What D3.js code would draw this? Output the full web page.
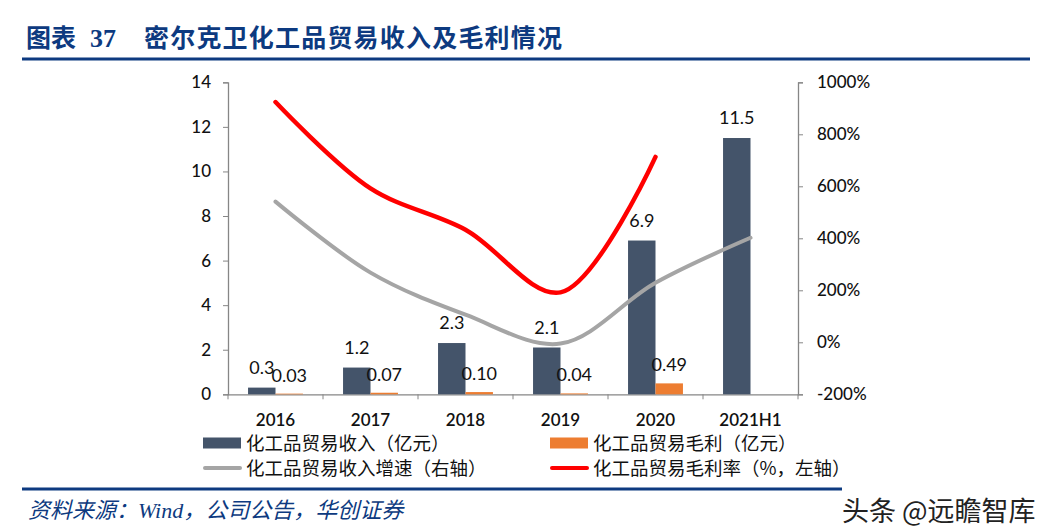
<!DOCTYPE html>
<html>
<head>
<meta charset="utf-8">
<script src="https://cdn.jsdelivr.net/npm/d3@7"></script>
<style>
  body { margin: 0; background: #fff; }
  svg { display: block; }
</style>
</head>
<body>
<div id="chart"></div>
<script>
// chart data
const years = ["2016", "2017", "2018", "2019", "2020", "2021H1"];
const revenue = [0.3, 1.2, 2.3, 2.1, 6.9, 11.5];              // 亿元
const profit = [0.03, 0.07, 0.10, 0.04, 0.49, null];          // 亿元
const growth = [541, 268, 106, -5, 229, 402];                 // %, right axis
const margin = [924, 592, 433, 192, 713];                      // % (drawn against right scale)
const revLabels = ["0.3", "1.2", "2.3", "2.1", "6.9", "11.5"];
const profitLabels = ["0.03", "0.07", "0.10", "0.04", "0.49", ""];
const leftTicks = [0, 2, 4, 6, 8, 10, 12, 14];
const rightTicks = [-200, 0, 200, 400, 600, 800, 1000];

const width = 1048;
const height = 531;
const plot = { left: 228, right: 798, top: 82.3, bottom: 394.3 };

const navy = "#0d3a80";
const axisColor = "#868686";
const numFont = "Lato, 'Open Sans', sans-serif";
const cjkFont = "'Noto Sans CJK SC', sans-serif";

const svg = d3.select("#chart")
  .append("svg")
  .attr("width", width)
  .attr("height", height);

///////////////////// title /////////////////////
const title = svg.append("g")
  .attr("fill", navy)
  .attr("font-weight", "bold")
  .attr("font-family", cjkFont);
title.append("text").attr("x", 26).attr("y", 47).attr("font-size", 25).text("图表");
title.append("text").attr("x", 90).attr("y", 47).attr("font-size", 26)
  .attr("font-family", "'Liberation Serif', serif").text("37");
title.append("text").attr("x", 144).attr("y", 47).attr("font-size", 25)
  .attr("letter-spacing", 1.2).text("密尔克卫化工品贸易收入及毛利情况");

svg.append("line")
  .attr("x1", 22).attr("x2", 1030).attr("y1", 59).attr("y2", 59)
  .attr("stroke", navy).attr("stroke-width", 3);

///////////////////// scales /////////////////////
const x = d3.scaleBand()
  .domain(years)
  .range([plot.left, plot.right]);

const inner = d3.scaleBand()
  .domain(["rev", "profit"])
  .range([0, x.bandwidth()])
  .paddingOuter(0.73)
  .paddingInner(0);

const yL = d3.scaleLinear().domain([0, 14]).range([plot.bottom, plot.top]);
const yR = d3.scaleLinear().domain([-200, 1000]).range([plot.bottom, plot.top]);

///////////////////// axes /////////////////////
const leftAxis = svg.append("g")
  .attr("transform", `translate(${plot.left},0)`)
  .call(d3.axisLeft(yL).tickValues(leftTicks).tickSize(5).tickPadding(12));

const rightAxis = svg.append("g")
  .attr("transform", `translate(${plot.right},0)`)
  .call(d3.axisRight(yR).tickValues(rightTicks).tickSize(5).tickPadding(14)
    .tickFormat(d => d + "%"));

const bottomAxis = svg.append("g")
  .attr("transform", `translate(0,${plot.bottom})`)
  .call(d3.axisBottom(x).tickSize(0).tickPadding(20));

// category separators like Excel's between-tick marks
bottomAxis.selectAll(".sep")
  .data(d3.range(years.length + 1))
  .join("line")
    .attr("class", "sep")
    .attr("x1", i => plot.left + i * x.step())
    .attr("x2", i => plot.left + i * x.step())
    .attr("y1", 0).attr("y2", 5)
    .attr("stroke", axisColor);

[leftAxis, rightAxis, bottomAxis].forEach(g => {
  g.select(".domain").attr("stroke", axisColor).attr("stroke-width", 1.3);
  g.selectAll(".tick line").attr("stroke", axisColor);
  g.selectAll("text")
    .attr("font-family", numFont)
    .attr("font-size", 17)
    .attr("font-weight", 500)
    .attr("fill", "#111");
});
bottomAxis.selectAll(".tick text").attr("font-weight", 600);

///////////////////// bars /////////////////////
svg.append("g")
  .selectAll("rect")
  .data(years)
  .join("rect")
    .attr("x", d => x(d) + inner("rev"))
    .attr("y", (d, i) => yL(revenue[i]))
    .attr("width", inner.bandwidth())
    .attr("height", (d, i) => yL(0) - yL(revenue[i]))
    .attr("fill", "#44546a");

svg.append("g")
  .selectAll("rect")
  .data(years.filter((d, i) => profit[i] !== null))
  .join("rect")
    .attr("x", d => x(d) + inner("profit"))
    .attr("y", (d, i) => yL(profit[i]))
    .attr("width", inner.bandwidth())
    .attr("height", (d, i) => yL(0) - yL(profit[i]))
    .attr("fill", "#ed7d31");

///////////////////// lines /////////////////////
const cx = d => x(d) + x.bandwidth() / 2;

const line = d3.line()
  .x(d => cx(d.year))
  .y(d => yR(d.value))
  .curve(d3.curveCatmullRom.alpha(0.5));

svg.append("path")
  .datum(years.map((y, i) => ({ year: y, value: growth[i] })))
  .attr("fill", "none")
  .attr("stroke", "#a5a5a5")
  .attr("stroke-width", 4)
  .attr("stroke-linecap", "round")
  .attr("d", line);

svg.append("path")
  .datum(margin.map((v, i) => ({ year: years[i], value: v })))
  .attr("fill", "none")
  .attr("stroke", "#ff0000")
  .attr("stroke-width", 4.5)
  .attr("stroke-linecap", "round")
  .attr("d", line);

///////////////////// value labels /////////////////////
const labels = svg.append("g")
  .attr("font-family", numFont)
  .attr("font-size", 18)
  .attr("fill", "#111")
  .attr("text-anchor", "middle");

labels.selectAll(".rev")
  .data(years)
  .join("text")
    .attr("class", "rev")
    .attr("x", d => x(d) + inner("rev") + inner.bandwidth() / 2)
    .attr("y", (d, i) => yL(revenue[i]) - 14)
    .text((d, i) => revLabels[i]);

labels.selectAll(".profit")
  .data(years.filter((d, i) => profit[i] !== null))
  .join("text")
    .attr("class", "profit")
    .attr("x", d => x(d) + inner("profit") + inner.bandwidth() / 2)
    .attr("y", (d, i) => yL(profit[i]) - 12)
    .text((d, i) => profitLabels[i]);

///////////////////// legend /////////////////////
const legendItems = [
  { name: "化工品贸易收入（亿元）", type: "bar", color: "#44546a", x: 203, y: 443 },
  { name: "化工品贸易毛利（亿元）", type: "bar", color: "#ed7d31", x: 550, y: 443 },
  { name: "化工品贸易收入增速（右轴）", type: "line", color: "#a5a5a5", x: 203, y: 468 },
  { name: "化工品贸易毛利率（%，左轴）", type: "line", color: "#ff0000", x: 550, y: 468 }
];

const legend = svg.append("g")
  .selectAll("g")
  .data(legendItems)
  .join("g")
    .attr("transform", d => `translate(${d.x},${d.y})`);

legend.filter(d => d.type === "bar")
  .append("rect")
    .attr("x", 0).attr("y", -5.5)
    .attr("width", 38).attr("height", 11)
    .attr("fill", d => d.color);

legend.filter(d => d.type === "line")
  .append("line")
    .attr("x1", 2).attr("x2", 37).attr("y1", 0).attr("y2", 0)
    .attr("stroke", d => d.color)
    .attr("stroke-width", 4)
    .attr("stroke-linecap", "round");

legend.append("text")
  .attr("x", 43)
  .attr("y", 6.5)
  .attr("font-family", cjkFont)
  .attr("font-size", 18.5)
  .attr("fill", "#111")
  .text(d => d.name);

///////////////////// footer /////////////////////
svg.append("line")
  .attr("x1", 22).attr("x2", 842).attr("y1", 489).attr("y2", 489)
  .attr("stroke", navy).attr("stroke-width", 3);

svg.append("text")
  .attr("x", 28).attr("y", 518)
  .attr("font-family", "'Liberation Serif', 'Noto Sans CJK SC', serif")
  .attr("font-style", "italic")
  .attr("font-size", 22)
  .attr("fill", navy)
  .text("资料来源：Wind，公司公告，华创证券");

svg.append("text")
  .attr("x", 842).attr("y", 521)
  .attr("font-family", cjkFont)
  .attr("font-size", 27)
  .attr("fill", "#222")
  .text("头条 @远瞻智库");
</script>
</body>
</html>
